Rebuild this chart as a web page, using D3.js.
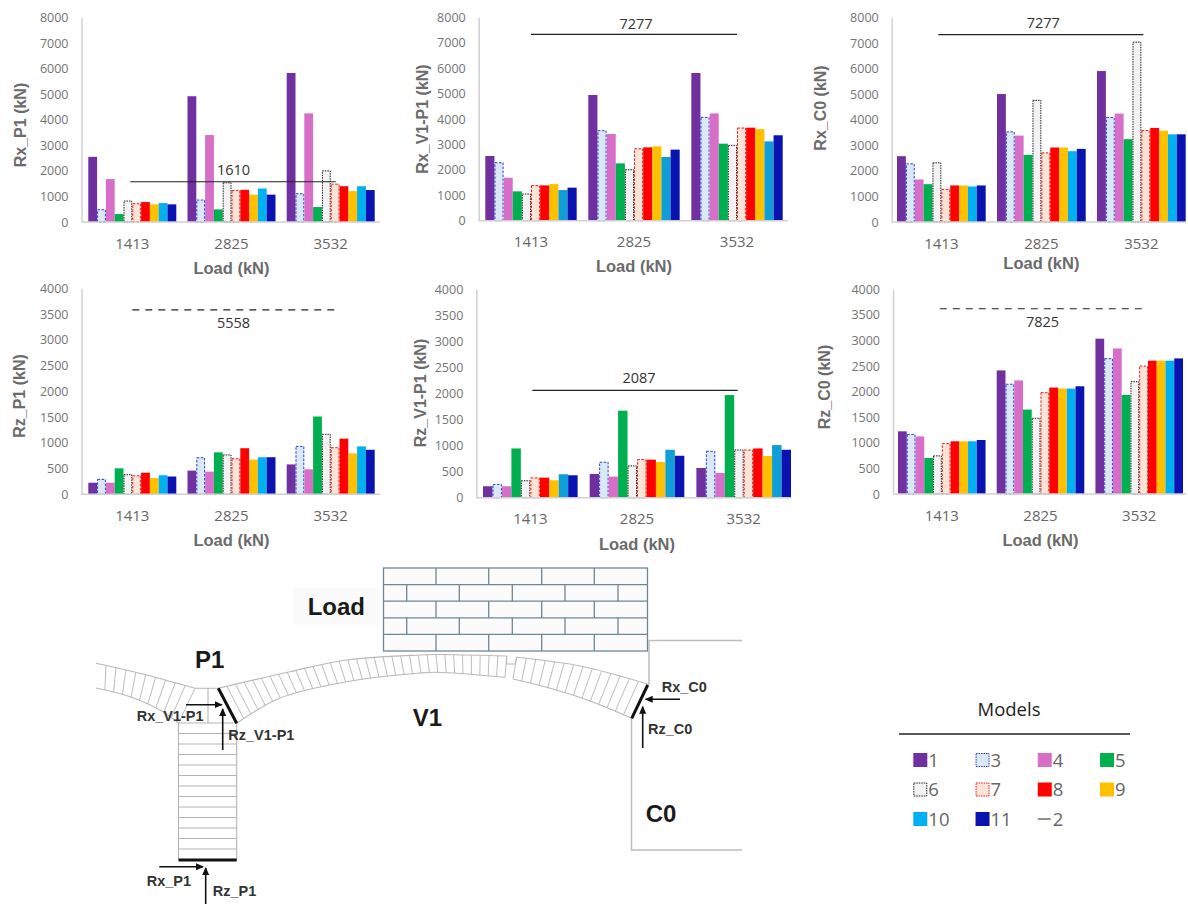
<!DOCTYPE html>
<html>
<head>
<meta charset="utf-8">
<script src="https://cdn.jsdelivr.net/npm/d3@7"></script>
<style>
  html, body { margin: 0; background: #fff; }
  svg { display: block; }
</style>
</head>
<body>
<svg width="1188" height="904"></svg>
<script>
const loads = ["1413", "2825", "3532"];
const models = ["1", "3", "4", "5", "6", "7", "8", "9", "10", "11"];

// one row per load, one value per model
const rxP1 = [
  [2550, 480, 1680, 310, 820, 715, 780, 690, 740, 690],
  [4920, 860, 3400, 495, 1535, 1235, 1260, 1070, 1310, 1070],
  [5830, 1105, 4250, 585, 2000, 1480, 1400, 1210, 1400, 1250]
];
const rxV1P1 = [
  [2545, 2280, 1690, 1155, 1050, 1380, 1390, 1440, 1205, 1300],
  [4945, 3540, 3410, 2255, 2005, 2830, 2885, 2925, 2505, 2795],
  [5810, 4065, 4220, 3030, 2965, 3645, 3660, 3605, 3120, 3360]
];
const rxC0 = [
  [2575, 2275, 1665, 1480, 2315, 1275, 1430, 1430, 1390, 1430],
  [5005, 3525, 3380, 2625, 4760, 2705, 2915, 2915, 2770, 2860],
  [5905, 4085, 4240, 3240, 7035, 3575, 3680, 3575, 3430, 3430]
];
const rzP1 = [
  [225, 290, 225, 505, 380, 360, 420, 315, 370, 345],
  [460, 710, 440, 815, 765, 690, 895, 675, 720, 720],
  [580, 930, 485, 1510, 1165, 905, 1080, 795, 930, 865]
];
const rzV1P1 = [
  [220, 255, 220, 945, 325, 380, 385, 335, 450, 430],
  [455, 680, 405, 1670, 610, 730, 730, 685, 920, 805],
  [570, 890, 475, 1970, 915, 915, 945, 800, 1010, 920]
];
const rzC0 = [
  [1225, 1165, 1125, 705, 745, 985, 1030, 1030, 1030, 1055],
  [2415, 2145, 2220, 1650, 1480, 1980, 2080, 2060, 2060, 2105],
  [3035, 2645, 2845, 1935, 2195, 2500, 2605, 2605, 2605, 2650]
];

const panelNames = ["Rx_P1", "Rx_V1-P1", "Rx_C0", "Rz_P1", "Rz_V1-P1", "Rz_C0"];
const panelValues = [rxP1, rxV1P1, rxC0, rzP1, rzV1P1, rzC0];
// model 2 is the horizontal line: its label, and the height it is drawn at
const model2Labels = ["1610", "7277", "7277", "5558", "2087", "7825"];
const model2DrawnAt = [1575, 7330, 7330, 3580, 2060, 3620];
const model2Dashed = [false, false, false, true, false, true];

const ticksX = [0, 1000, 2000, 3000, 4000, 5000, 6000, 7000, 8000];
const ticksZ = [0, 500, 1000, 1500, 2000, 2500, 3000, 3500, 4000];

const fills = ["#7030a0", "#dae8f5", "#d76fc9", "#00b050", "#f2f2f2", "#fbe3d6", "#ff0000", "#ffc000", "#00b0f0", "#0a12b0"];
const strokes = [null, "#2a3fd0", null, null, "#222", "#f01a1a", null, null, null, null];

// layout of each panel: axis x, first and last bar edge, right end, y0, y top
const layout = [
  { ax: 81.5, x0: 88.3, x1: 374.7, right: 380, y0: 222, top: 17.5, tx: 20.7, ty: 125, ly: 46, cap: -12, c10: "#00b0f0", dl: -2, dr: 5 },
  { ax: 478.7, x0: 485.3, x1: 782.7, right: 788, y0: 220.7, top: 17.3, tx: 422, ty: 119, ly: 45.7, cap: -11, c10: "#0f9ed5", dl: 0, dr: 0 },
  { ax: 891.7, x0: 897, x1: 1185.7, right: 1186, y0: 222, top: 17.5, tx: 820, ty: 108, ly: 41, cap: -12, c10: "#00b0f0", dl: -3, dr: 2 },
  { ax: 81.5, x0: 88.3, x1: 374.7, right: 380, y0: 494.3, top: 288.3, tx: 19.3, ty: 396, ly: 46, cap: 13, c10: "#00b0f0", dl: 0, dr: 6 },
  { ax: 476.3, x0: 483, x1: 791, right: 791.7, y0: 497.7, top: 289.3, tx: 420, ty: 393, ly: 46.6, cap: -13, c10: "#0f9ed5", dl: 2, dr: -6 },
  { ax: 893, x0: 898, x1: 1183, right: 1186, y0: 494, top: 289.3, tx: 824, ty: 387, ly: 46, cap: 13, c10: "#00b0f0", dl: -2, dr: 4 }
];

const svg = d3.select("svg");
const tickFont = "'Open Sans', sans-serif";
const labelFont = "'Liberation Sans', sans-serif";

panelNames.forEach((name, p) => {
  const L = layout[p];
  const g = svg.append("g");
  const x = d3.scaleBand().domain(loads).range([L.x0, L.x1]).paddingInner(0.113);
  const inner = d3.scaleBand().domain(models).range([0, x.bandwidth()]);
  const y = d3.scaleLinear().domain([0, p < 3 ? 8000 : 4000]).range([L.y0, L.top]);

  loads.forEach((load, i) => {
    g.selectAll(null)
      .data(panelValues[p][i])
      .enter()
      .append("rect")
      .attr("x", (d, m) => x(load) + inner(models[m]) + (strokes[m] ? 0.5 : 0))
      .attr("y", d => y(d))
      .attr("width", (d, m) => inner.bandwidth() - (strokes[m] ? 1 : 0))
      .attr("height", d => L.y0 - y(d))
      .attr("fill", (d, m) => m === 8 ? L.c10 : fills[m])
      .attr("stroke", (d, m) => strokes[m] || "none")
      .attr("stroke-width", 1)
      .attr("stroke-dasharray", (d, m) => m === 4 ? "1.5 1" : "2.5 1.5");
  });

  const yAxis = g.append("g")
    .attr("transform", "translate(" + L.ax + ",0)")
    .call(d3.axisLeft(y).tickValues(p < 3 ? ticksX : ticksZ).tickFormat(d3.format("d")).tickSize(0).tickPadding(13));
  const xAxis = g.append("g")
    .attr("transform", "translate(0," + L.y0 + ")")
    .call(d3.axisBottom(x).tickSize(0).tickPadding(16));
  xAxis.select(".domain").attr("d", "M" + L.ax + ",0H" + L.right);
  g.selectAll(".domain").attr("stroke", "#d0d0d0").attr("stroke-width", 1.5);
  yAxis.selectAll("text").attr("font-family", tickFont).attr("font-size", 12.5).attr("fill", "#747474");
  xAxis.selectAll("text").attr("font-family", tickFont).attr("font-size", 15).attr("fill", "#666");

  const midX = (x(loads[0]) + x(loads[2]) + x.bandwidth()) / 2;

  g.append("line")
    .attr("x1", x(loads[0]) + x.bandwidth() / 2 + L.dl)
    .attr("x2", x(loads[2]) + x.bandwidth() / 2 + L.dr)
    .attr("y1", y(model2DrawnAt[p]))
    .attr("y2", y(model2DrawnAt[p]))
    .attr("stroke", "#222")
    .attr("stroke-width", 1.2)
    .attr("stroke-dasharray", model2Dashed[p] ? "7 6" : null);

  g.append("text")
    .attr("x", midX + 2)
    .attr("y", y(model2DrawnAt[p]) + L.cap)
    .attr("dy", "0.36em")
    .attr("text-anchor", "middle")
    .attr("font-family", tickFont)
    .attr("font-size", 14.5)
    .attr("fill", "#333")
    .text(model2Labels[p]);

  g.append("text")
    .attr("x", midX)
    .attr("y", L.y0 + L.ly)
    .attr("dy", "0.36em")
    .attr("text-anchor", "middle")
    .attr("font-family", labelFont)
    .attr("font-weight", "bold")
    .attr("font-size", 16.5)
    .attr("fill", "#6b6b6b")
    .text("Load (kN)");

  g.append("text")
    .attr("transform", "translate(" + L.tx + "," + L.ty + ") rotate(-90)")
    .attr("dy", "0.36em")
    .attr("text-anchor", "middle")
    .attr("font-family", labelFont)
    .attr("font-weight", "bold")
    .attr("font-size", 16)
    .attr("fill", "#6b6b6b")
    .text(name + " (kN)");
});

// ---- arch schematic ----
const sketch = svg.append("g").attr("fill", "none");
const curve = d3.line().curve(d3.curveCatmullRom);

// brick wall
const wallCols = [383.5, 647.5];
const wallRows = [568, 584.6, 601.2, 617.8, 634.4, 651];
const jointsOdd = [436, 488.7, 541.7, 594.3];
const jointsEven = [406.7, 459.3, 512.3, 565, 618];
sketch.append("rect")
  .attr("x", wallCols[0]).attr("y", wallRows[0])
  .attr("width", wallCols[1] - wallCols[0]).attr("height", wallRows[5] - wallRows[0])
  .attr("fill", "#fbfbfb");
const wall = sketch.append("g").attr("stroke", "#6d8797").attr("stroke-width", 1.3);
wall.append("rect")
  .attr("x", wallCols[0]).attr("y", wallRows[0])
  .attr("width", wallCols[1] - wallCols[0]).attr("height", wallRows[5] - wallRows[0]);
wallRows.slice(1, 5).forEach(r => {
  wall.append("line").attr("x1", wallCols[0]).attr("x2", wallCols[1]).attr("y1", r).attr("y2", r);
});
d3.range(5).forEach(r => {
  (r % 2 === 0 ? jointsOdd : jointsEven).forEach(j => {
    wall.append("line").attr("x1", j).attr("x2", j).attr("y1", wallRows[r]).attr("y2", wallRows[r + 1]);
  });
});

function archPiece(top, bottom, n, first) {
  const t = sketch.append("path").attr("d", curve(top)).attr("stroke", "#b8b8b8").attr("stroke-width", 1.1);
  const b = sketch.append("path").attr("d", curve(bottom)).attr("stroke", "#b8b8b8").attr("stroke-width", 1.1);
  const tLen = t.node().getTotalLength();
  const bLen = b.node().getTotalLength();
  d3.range(first, n + 1).forEach(i => {
    const p1 = t.node().getPointAtLength(tLen * i / n);
    const p2 = b.node().getPointAtLength(bLen * i / n);
    sketch.append("line")
      .attr("x1", p1.x).attr("y1", p1.y).attr("x2", p2.x).attr("y2", p2.y)
      .attr("stroke", "#b4b4b4").attr("stroke-width", 0.9);
  });
}

archPiece([[96, 663.3], [146.7, 675], [195, 688.3]], [[96, 688], [130, 696.7], [160, 710], [178.5, 723]], 10, 1);
archPiece([[218.3, 688.3], [290, 671.7], [346.7, 660], [420, 655], [436.7, 654.5], [506.7, 656]],
  [[236.7, 723.3], [280, 698], [346.7, 681.7], [420, 673], [436.7, 672.3], [505, 677.3]], 33, 0);
archPiece([[516.7, 657.3], [580, 666], [647.7, 684]], [[513, 679], [546.7, 687.3], [590, 701], [631.7, 718.3]], 14, 0);
sketch.append("path").attr("d", "M506.7,656V664H515L516.7,657.3").attr("stroke", "#b8b8b8").attr("stroke-width", 1);

// pier
const pierRows = d3.range(14).map(i => 723 + i * 10.5);
const pier = sketch.append("g").attr("stroke", "#b4b4b4").attr("stroke-width", 1.1);
pier.append("path").attr("d", "M195,688.3H218.3M208,688.3V723M178.5,723V860M236.7,723V860");
pierRows.forEach(r => {
  pier.append("line").attr("x1", 178.5).attr("x2", 236.7).attr("y1", r).attr("y2", r);
});

// abutment
sketch.append("path")
  .attr("d", "M742,640.5H649V685M631.5,718V850H742")
  .attr("stroke", "#bdbdbd").attr("stroke-width", 1.5);

// skewbacks
sketch.append("path")
  .attr("d", "M218.3,688.3L236.7,723.3M647.7,685L631.7,718.3M178.5,860H236.7")
  .attr("stroke", "#111").attr("stroke-width", 3);

// reaction arrows
svg.append("defs").append("marker")
  .attr("id", "head").attr("viewBox", "0 0 8 8").attr("refX", 7).attr("refY", 4)
  .attr("markerUnits", "userSpaceOnUse").attr("markerWidth", 8).attr("markerHeight", 8).attr("orient", "auto")
  .append("path").attr("d", "M0,0.5L8,4L0,7.5Z").attr("fill", "#111");
const arrows = [
  [186, 704.7, 221.7, 704.7], [222.7, 750, 222.7, 709],
  [159.3, 866.7, 203, 866.7], [205.7, 904, 205.7, 868],
  [680, 699.3, 645.7, 699.3], [642.7, 748, 642.7, 706.7]
];
sketch.selectAll(null)
  .data(arrows)
  .enter()
  .append("line")
  .attr("x1", d => d[0]).attr("y1", d => d[1]).attr("x2", d => d[2]).attr("y2", d => d[3])
  .attr("stroke", "#111").attr("stroke-width", 1.6).attr("marker-end", "url(#head)");

const smallNames = ["Rx_V1-P1", "Rz_V1-P1", "Rx_P1", "Rz_P1", "Rx_C0", "Rz_C0"];
const smallAt = [[136.7, 721], [228.3, 740], [146.7, 885.7], [212.7, 896], [661.7, 692], [648, 734]];
smallNames.forEach((s, i) => {
  svg.append("text")
    .attr("x", smallAt[i][0]).attr("y", smallAt[i][1])
    .attr("font-family", labelFont).attr("font-weight", "bold").attr("font-size", 14.5)
    .attr("fill", "#333").text(s);
});

svg.insert("rect", ":first-child")
  .attr("x", 293).attr("y", 588).attr("width", 87).attr("height", 37).attr("fill", "#fafafa");
const bigNames = ["Load", "P1", "V1", "C0"];
const bigAt = [[307.7, 615], [195, 668], [412.7, 726], [645.7, 822]];
bigNames.forEach((s, i) => {
  svg.append("text")
    .attr("x", bigAt[i][0]).attr("y", bigAt[i][1])
    .attr("font-family", labelFont).attr("font-weight", "bold").attr("font-size", 24)
    .attr("fill", "#1a1a1a").text(s);
});

// ---- legend ----
const legendCol = d3.scalePoint().domain([0, 1, 2, 3]).range([913.3, 1100]);
const legendRow = d3.scalePoint().domain([0, 1, 2]).range([760, 819]);

svg.append("text")
  .attr("x", 1009).attr("y", 716).attr("text-anchor", "middle")
  .attr("font-family", tickFont).attr("font-size", 18.5).attr("fill", "#222").text("Models");
svg.append("line")
  .attr("x1", 899).attr("x2", 1130).attr("y1", 734).attr("y2", 734)
  .attr("stroke", "#222").attr("stroke-width", 1.3);

const legend = svg.selectAll(null)
  .data(models)
  .enter()
  .append("g")
  .attr("transform", (d, i) => "translate(" + legendCol(i % 4) + "," + legendRow(Math.floor(i / 4)) + ")");
legend.append("rect")
  .attr("x", (d, i) => strokes[i] ? 0.5 : 0).attr("y", (d, i) => strokes[i] ? -6.5 : -7)
  .attr("width", (d, i) => strokes[i] ? 13 : 14).attr("height", (d, i) => strokes[i] ? 13 : 14)
  .attr("fill", (d, i) => fills[i])
  .attr("stroke", (d, i) => strokes[i] || "none")
  .attr("stroke-dasharray", "1.5 1");
legend.append("text")
  .attr("x", 15).attr("dy", "0.36em")
  .attr("font-family", tickFont).attr("font-size", 18.5).attr("fill", "#666")
  .text(d => d);

svg.append("g")
  .attr("transform", "translate(" + legendCol(2) + "," + legendRow(2) + ")")
  .call(k => {
    k.append("line").attr("x1", 0).attr("x2", 13).attr("stroke", "#555").attr("stroke-width", 1.3);
    k.append("text").attr("x", 15).attr("dy", "0.36em")
      .attr("font-family", tickFont).attr("font-size", 18.5).attr("fill", "#666").text("2");
  });
</script>
</body>
</html>
